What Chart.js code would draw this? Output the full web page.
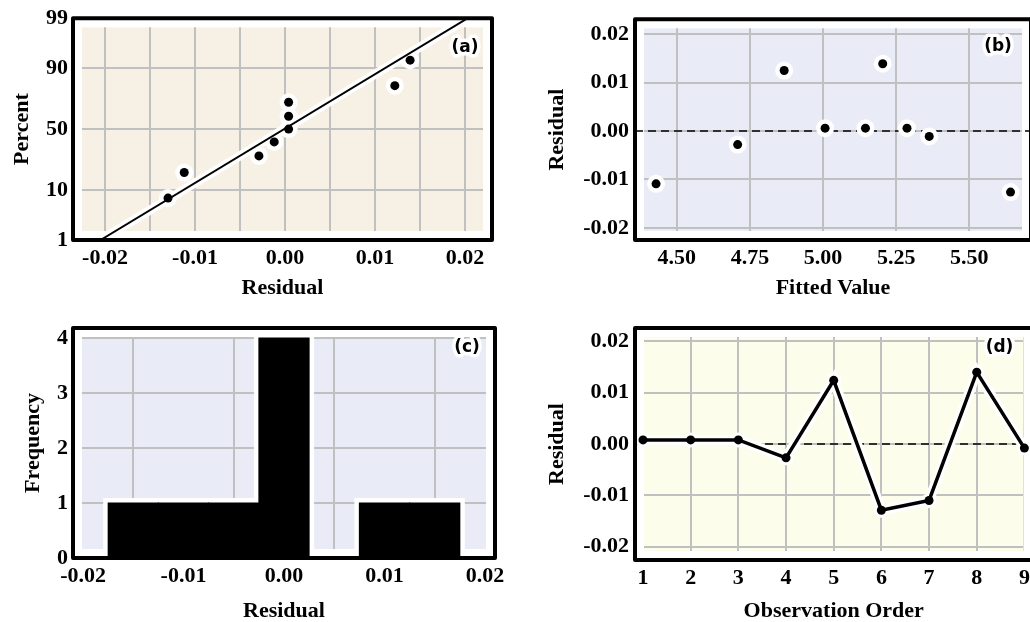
<!DOCTYPE html>
<html><head><meta charset="utf-8">
<script src="https://cdn.jsdelivr.net/npm/chart.js@4.4.1/dist/chart.umd.min.js"></script>
<style>
html,body{margin:0;padding:0;background:#fff;overflow:hidden;}
#wrap{position:relative;width:1030px;height:622px;overflow:hidden;background:#fff;}
canvas{position:absolute;}
</style></head><body>
<div id="wrap">
<canvas id="ca" width="510" height="300" style="left:0;top:0"></canvas>
<canvas id="cb" width="530" height="300" style="left:510px;top:0"></canvas>
<canvas id="cc" width="510" height="322" style="left:0;top:300px"></canvas>
<canvas id="cd" width="530" height="322" style="left:510px;top:300px"></canvas>
</div>
<script>
// ---------- (a) normal probability plot ----------
const probResiduals = [-0.0130, -0.0112, -0.0029, -0.0012, 0.0004, 0.0004, 0.0004, 0.0122, 0.0139];
const probPercents  = [7.4, 18.1, 28.7, 39.4, 50.0, 60.6, 71.3, 81.9, 92.6];
const probFitResiduals = [-0.0205, 0.0203];
const probFitPercents  = [1, 99];
const probXTicks = [-0.02, -0.015, -0.01, -0.005, 0, 0.005, 0.01, 0.015, 0.02];
const probXTickLabels = ['-0.02', '', '-0.01', '', '0.00', '', '0.01', '', '0.02'];
const probYTicks = [1, 10, 50, 90, 99];
const probYTickLabels = ['1', '10', '50', '90', '99'];

// ---------- (b) versus fits ----------
const fittedValues    = [4.429, 4.708, 4.867, 5.007, 5.145, 5.204, 5.287, 5.363, 5.641];
const fittedResiduals = [-0.0109, -0.0028, 0.0125, 0.0006, 0.0006, 0.0139, 0.0006, -0.0011, -0.0126];
const fittedXTicks = [4.50, 4.75, 5.00, 5.25, 5.50];
const fittedXTickLabels = ['4.50', '4.75', '5.00', '5.25', '5.50'];

const residTicks = [-0.02, -0.01, 0, 0.01, 0.02];
const residTickLabels = ['-0.02', '-0.01', '0.00', '0.01', '0.02'];

// ---------- (c) histogram ----------
const histBinCenters = [-0.015, -0.010, -0.005, 0.000, 0.005, 0.010, 0.015];
const histCounts     = [1, 1, 1, 4, 0, 1, 1];
const histYTicks = [0, 1, 2, 3, 4];
const histYTickLabels = ['0', '1', '2', '3', '4'];

// ---------- (d) versus order ----------
const obsOrder     = [1, 2, 3, 4, 5, 6, 7, 8, 9];
const obsResiduals = [0.0008, 0.0008, 0.0008, -0.0027, 0.0124, -0.0129, -0.0110, 0.0140, -0.0008];
const obsTicks = [1, 2, 3, 4, 5, 6, 7, 8, 9];
const obsTickLabels = ['1', '2', '3', '4', '5', '6', '7', '8', '9'];

// inverse normal CDF (probability-paper scale transform)
function probit(p){
  const a=[-3.969683028665376e+01,2.209460984245205e+02,-2.759285104469687e+02,1.383577518672690e+02,-3.066479806614716e+01,2.506628277459239e+00];
  const b=[-5.447609879822406e+01,1.615858368580409e+02,-1.556989798598866e+02,6.680131188771972e+01,-1.328068155288572e+01];
  const c=[-7.784894002430293e-03,-3.223964580411365e-01,-2.400758277161838e+00,-2.549671010163766e+00,4.374664141464968e+00,2.938163982698783e+00];
  const d=[7.784695709041462e-03,3.224671290700398e-01,2.445134137142996e+00,3.754408661907416e+00];
  const pl=0.02425, ph=1-pl; let q,r;
  if(p<pl){q=Math.sqrt(-2*Math.log(p));return (((((c[0]*q+c[1])*q+c[2])*q+c[3])*q+c[4])*q+c[5])/((((d[0]*q+d[1])*q+d[2])*q+d[3])*q+1);}
  if(p<=ph){q=p-0.5;r=q*q;return (((((a[0]*r+a[1])*r+a[2])*r+a[3])*r+a[4])*r+a[5])*q/(((((b[0]*r+b[1])*r+b[2])*r+b[3])*r+b[4])*r+1);}
  q=Math.sqrt(-2*Math.log(1-p));return -(((((c[0]*q+c[1])*q+c[2])*q+c[3])*q+c[4])*q+c[5])/((((d[0]*q+d[1])*q+d[2])*q+d[3])*q+1);
}
const z = pct => probit(pct/100);

const SERIF = "'Liberation Serif','Times New Roman',serif";
const TICKFONT = {family: SERIF, size: 22, weight: 'bold'};
const TITLEFONT = {family: SERIF, size: 22, weight: 'bold'};
const GRID = {color: '#c0c0c0', lineWidth: 2, drawTicks: false};
const INSET = 9;

function panelPlugin(bg, label, labelFont, dx, dy, zeroLine){
  return {
    id: 'panel',
    beforeDraw(chart){
      const {ctx, chartArea: a} = chart;
      ctx.save();
      ctx.fillStyle = bg;
      ctx.fillRect(a.left + INSET, a.top + INSET, a.width - 2*INSET, a.height - 2*INSET);
      ctx.restore();
    },
    beforeDatasetsDraw(chart){
      const {ctx, chartArea: a} = chart;
      ctx.save();
      ctx.fillStyle = '#ffffff';
      ctx.beginPath();
      ctx.rect(a.left - 2, a.top - 2, a.width + 4, a.height + 4);
      ctx.rect(a.left + INSET, a.top + INSET, a.width - 2*INSET, a.height - 2*INSET);
      ctx.fill('evenodd');
      if (zeroLine) {
        const y = chart.scales.y.getPixelForValue(0);
        ctx.strokeStyle = '#000';
        ctx.lineWidth = 1.6;
        ctx.setLineDash([8, 5]);
        ctx.beginPath();
        ctx.moveTo(a.left, y);
        ctx.lineTo(a.right, y);
        ctx.stroke();
      }
      ctx.restore();
    },
    afterDatasetsDraw(chart){
      const {ctx, chartArea: a} = chart;
      ctx.save();
      ctx.strokeStyle = '#000';
      ctx.lineWidth = 4;
      ctx.lineJoin = 'round';
      ctx.strokeRect(a.left, a.top, a.width, a.height);
      ctx.font = labelFont;
      ctx.textAlign = 'center';
      ctx.textBaseline = 'middle';
      ctx.lineJoin = 'round';
      ctx.strokeStyle = '#fff';
      ctx.lineWidth = 7;
      ctx.strokeText(label, a.right - dx, a.top + dy);
      ctx.fillStyle = '#000';
      ctx.fillText(label, a.right - dx, a.top + dy);
      ctx.restore();
    }
  };
}

function axis(min, max, ticks, labels, opts){
  return {
    type: 'linear', min, max, offset: false,
    afterBuildTicks: s => { s.ticks = ticks.map(v => ({value: v})); },
    afterFit: s => { if (opts.width !== undefined) s.width = opts.width; if (opts.height !== undefined) s.height = opts.height; },
    ticks: {callback: (v, i) => labels[i], font: TICKFONT, color: '#000', padding: opts.pad, autoSkip: false, maxRotation: 0, minRotation: 0},
    grid: GRID,
    border: {display: false},
    title: {display: true, text: opts.title, font: TITLEFONT, color: '#000', padding: opts.titlePad}
  };
}

const common = {
  responsive: false, animation: false, devicePixelRatio: 1,
  plugins: {legend: {display: false}, tooltip: {enabled: false}},
  events: []
};

// (a)
new Chart(document.getElementById('ca'), {
  type: 'scatter',
  data: {datasets: [
    {type: 'scatter', showLine: true, data: probFitResiduals.map((x, i) => ({x, y: z(probFitPercents[i])})), borderColor: '#fff', borderWidth: 9, pointRadius: 0, order: 4},
    {data: probResiduals.map((x, i) => ({x, y: z(probPercents[i])})), backgroundColor: '#fff', borderWidth: 0, pointRadius: 9, order: 3},
    {type: 'scatter', showLine: true, data: probFitResiduals.map((x, i) => ({x, y: z(probFitPercents[i])})), borderColor: '#000', borderWidth: 2, pointRadius: 0, order: 2},
    {data: probResiduals.map((x, i) => ({x, y: z(probPercents[i])})), backgroundColor: '#000', borderWidth: 0, pointRadius: 4.5, order: 1}
  ]},
  options: Object.assign({}, common, {
    layout: {padding: {top: 17, right: 18, left: 0, bottom: 0}},
    scales: {
      x: axis(-0.02356, 0.0230, probXTicks, probXTickLabels, {height: 60, pad: 5, title: 'Residual', titlePad: {top: 0, bottom: -2}}),
      y: axis(z(1), z(99), probYTicks.map(z), probYTickLabels, {width: 73, pad: 5, title: 'Percent', titlePad: {top: 9, bottom: 0}})
    }
  }),
  plugins: [panelPlugin('#f7f1e5', '(a)', "bold 17px 'DejaVu Sans',sans-serif", 27, 29, false)]
});

// (b)
new Chart(document.getElementById('cb'), {
  type: 'scatter',
  data: {datasets: [
    {data: fittedValues.map((x, i) => ({x, y: fittedResiduals[i]})), backgroundColor: '#fff', borderWidth: 0, pointRadius: 9, order: 2},
    {data: fittedValues.map((x, i) => ({x, y: fittedResiduals[i]})), backgroundColor: '#000', borderWidth: 0, pointRadius: 4.5, order: 1}
  ]},
  options: Object.assign({}, common, {
    layout: {padding: {top: 18, right: 7, left: 0, bottom: 0}},
    scales: {
      x: axis(4.357, 5.711, fittedXTicks, fittedXTickLabels, {height: 60, pad: 5, title: 'Fitted Value', titlePad: {top: 0, bottom: -2}}),
      y: axis(-0.0225, 0.0231, residTicks, residTickLabels, {width: 125, pad: 6, title: 'Residual', titlePad: {top: 34, bottom: 0}})
    }
  }),
  plugins: [panelPlugin('#e9ebf7', '(b)', "bold 17px 'DejaVu Sans',sans-serif", 33, 27, true)]
});

// (c)
new Chart(document.getElementById('cc'), {
  type: 'bar',
  data: {datasets: [
    {data: histBinCenters.map((x, i) => ({x, y: histCounts[i]})), backgroundColor: '#fff', borderWidth: 0, inflateAmount: 5, grouped: false, barPercentage: 1, categoryPercentage: 1, order: 2},
    {data: histBinCenters.map((x, i) => ({x, y: histCounts[i]})), backgroundColor: '#000', borderWidth: 0, inflateAmount: 0.5, grouped: false, barPercentage: 1, categoryPercentage: 1, order: 1}
  ]},
  options: Object.assign({}, common, {
    layout: {padding: {top: 28, right: 15, left: 0, bottom: 0}},
    scales: {
      x: axis(-0.0210, 0.0210, residTicks, residTickLabels, {height: 64, pad: 5, title: 'Residual', titlePad: {top: 0, bottom: -3}}),
      y: axis(0, 4.18, histYTicks, histYTickLabels, {width: 73, pad: 5, title: 'Frequency', titlePad: {top: 20, bottom: 0}})
    }
  }),
  plugins: [panelPlugin('#e9ebf7', '(c)', "bold 17px 'DejaVu Sans',sans-serif", 28, 20, false)]
});

// (d)
new Chart(document.getElementById('cd'), {
  type: 'scatter',
  data: {datasets: [
    {showLine: true, data: obsOrder.map((x, i) => ({x, y: obsResiduals[i]})), borderColor: '#fff', backgroundColor: '#fff', borderWidth: 10, pointRadius: 7.5, pointBorderWidth: 0, order: 2},
    {showLine: true, data: obsOrder.map((x, i) => ({x, y: obsResiduals[i]})), borderColor: '#000', backgroundColor: '#000', borderWidth: 3.5, pointRadius: 4.5, pointBorderWidth: 0, order: 1}
  ]},
  options: Object.assign({}, common, {
    layout: {padding: {top: 28, right: 7, left: 0, bottom: 0}},
    scales: {
      x: axis(0.832, 9.17, obsTicks, obsTickLabels, {height: 62, pad: 5, title: 'Observation Order', titlePad: {top: 0, bottom: -3}}),
      y: axis(-0.0226, 0.0226, residTicks, residTickLabels, {width: 125, pad: 6, title: 'Residual', titlePad: {top: 34, bottom: 0}})
    }
  }),
  plugins: [panelPlugin('#fdfdeb', '(d)', "bold 17px 'DejaVu Sans',sans-serif", 33, 20, true)]
});
</script>
</body></html>
